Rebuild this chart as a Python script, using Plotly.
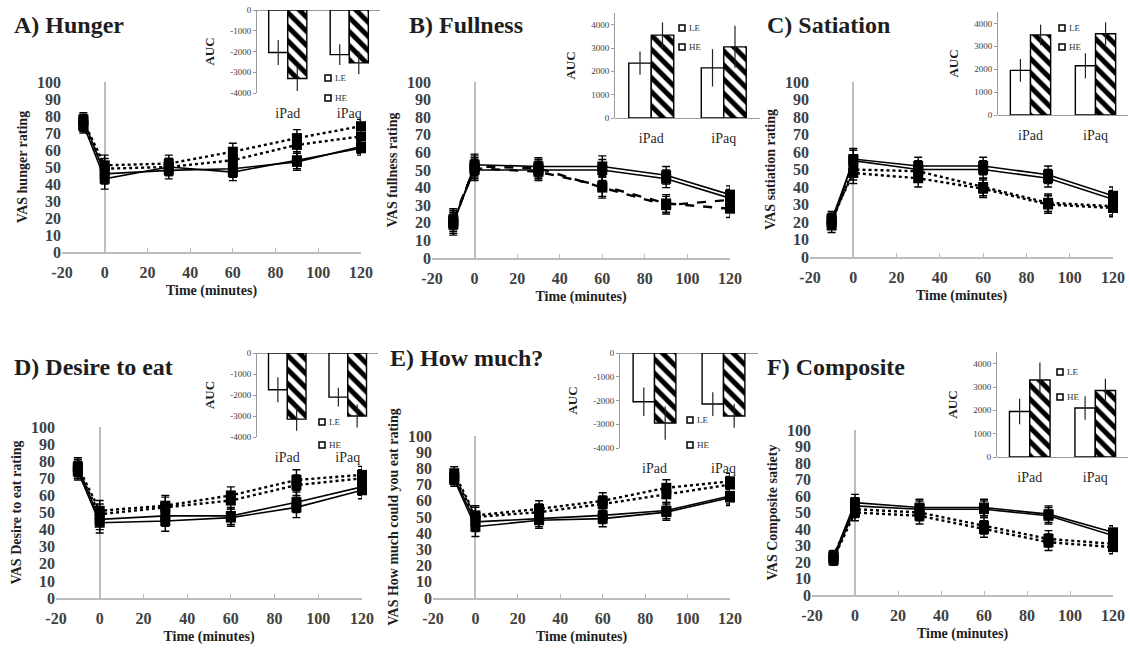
import plotly.graph_objects as go

W, H = 1130, 648

# ---------------- data ----------------
times = [-10, 0, 30, 60, 90, 120]
x_ticks = [-20, 0, 20, 40, 60, 80, 100, 120]
y_ticks = [0, 10, 20, 30, 40, 50, 60, 70, 80, 90, 100]
auc_cats = ["iPad", "iPaq"]
auc_neg_ticks = [0, -1000, -2000, -3000, -4000]
auc_pos_ticks = [0, 1000, 2000, 3000, 4000]

# A) Hunger
hunger_ipad_le = [77, 51, 52, 59, 67, 74]
hunger_ipaq_le = [74, 49, 50, 54, 63, 68]
hunger_ipad_he = [78, 46, 48, 49, 53, 62]
hunger_ipaq_he = [75, 43, 50, 47, 54, 61]
hunger_err = [4, 6, 5, 5, 5, 4]
hunger_auc_le = [-2050, -2150]
hunger_auc_le_err = [600, 500]
hunger_auc_he = [-3300, -2550]
hunger_auc_he_err = [600, 550]

# B) Fullness
fullness_ipad_le = [20, 52, 51, 40, 30, 33]
fullness_ipaq_le = [22, 51, 49, 41, 31, 28]
fullness_ipad_he = [19, 53, 52, 52, 47, 36]
fullness_ipaq_he = [21, 50, 50, 50, 45, 34]
fullness_err = [6, 6, 5, 6, 5, 5]
fullness_auc_le = [2350, 2150]
fullness_auc_le_err = [500, 800]
fullness_auc_he = [3550, 3050]
fullness_auc_he_err = [550, 900]

# C) Satiation
satiation_ipad_le = [20, 50, 49, 40, 31, 29]
satiation_ipaq_le = [22, 48, 45, 39, 30, 28]
satiation_ipad_he = [18, 56, 52, 52, 47, 35]
satiation_ipaq_he = [21, 55, 50, 50, 45, 33]
satiation_err = [4, 6, 5, 5, 5, 5]
satiation_auc_le = [1950, 2150]
satiation_auc_le_err = [500, 550]
satiation_auc_he = [3500, 3550]
satiation_auc_he_err = [450, 500]

# D) Desire to eat
desire_ipad_le = [77, 51, 54, 60, 69, 72]
desire_ipaq_le = [75, 49, 53, 57, 66, 70]
desire_ipad_he = [76, 46, 48, 48, 56, 65]
desire_ipaq_he = [74, 44, 45, 47, 53, 63]
desire_err = [5, 6, 6, 5, 6, 5]
desire_auc_le = [-1750, -2100]
desire_auc_le_err = [600, 450]
desire_auc_he = [-3150, -3000]
desire_auc_he_err = [550, 550]

# E) How much?
howmuch_ipad_le = [77, 51, 55, 60, 68, 72]
howmuch_ipaq_le = [75, 50, 53, 58, 64, 70]
howmuch_ipad_he = [74, 47, 49, 51, 54, 63]
howmuch_ipaq_he = [73, 44, 48, 49, 53, 62]
howmuch_err = [4, 6, 5, 5, 5, 5]
howmuch_auc_le = [-2050, -2150]
howmuch_auc_le_err = [600, 500]
howmuch_auc_he = [-2950, -2650]
howmuch_auc_he_err = [700, 500]

# F) Composite
composite_ipad_le = [24, 52, 50, 42, 34, 31]
composite_ipaq_le = [22, 50, 48, 40, 32, 29]
composite_ipad_he = [23, 56, 53, 53, 49, 38]
composite_ipaq_he = [21, 54, 52, 52, 48, 36]
composite_err = [3, 5, 5, 5, 5, 4]
composite_auc_le = [1950, 2100]
composite_auc_le_err = [550, 500]
composite_auc_he = [3300, 2850]
composite_auc_he_err = [750, 500]

titles = ["A) Hunger", "B) Fullness", "C) Satiation",
          "D) Desire to eat", "E) How much?", "F) Composite"]
ytitles = ["VAS hunger rating", "VAS fullness rating", "VAS satiation rating",
           "VAS Desire to eat rating", "VAS How much could you eat rating",
           "VAS Composite satiety"]

# ---------------- layout helpers ----------------
def PX(p):
    return min(max(p / W, 0.0), 1.0)

def PY(p):
    return min(max(1 - p / H, 0.0), 1.0)

SERIF = "Liberation Serif"
DARK = "#1e1e1e"
TICK = "#404040"
AXC = "#bdbdbd"

panels = [
    dict(lines=(hunger_ipad_le, hunger_ipaq_le, hunger_ipad_he, hunger_ipaq_he), err=hunger_err,
         auc=(hunger_auc_le, hunger_auc_le_err, hunger_auc_he, hunger_auc_he_err),
         dom=(62, 361, 82, 252), ins=(257, 380, 10, 93), neg=True, dash="dot",
         title=(12, 25), leg=(328, 78, 98)),
    dict(lines=(fullness_ipad_le, fullness_ipaq_le, fullness_ipad_he, fullness_ipaq_he), err=fullness_err,
         auc=(fullness_auc_le, fullness_auc_le_err, fullness_auc_he, fullness_auc_he_err),
         dom=(432, 730, 82, 258), ins=(615, 760, 13, 118), neg=False, dash="dash",
         title=(407, 25), leg=(682, 28, 47)),
    dict(lines=(satiation_ipad_le, satiation_ipaq_le, satiation_ipad_he, satiation_ipaq_he), err=satiation_err,
         auc=(satiation_auc_le, satiation_auc_le_err, satiation_auc_he, satiation_auc_he_err),
         dom=(810, 1113, 82, 257), ins=(998, 1128, 12, 115), neg=False, dash="dot",
         title=(765, 25), leg=(1062, 28, 47)),
    dict(lines=(desire_ipad_le, desire_ipaq_le, desire_ipad_he, desire_ipaq_he), err=desire_err,
         auc=(desire_auc_le, desire_auc_le_err, desire_auc_he, desire_auc_he_err),
         dom=(56, 362, 427, 598), ins=(257, 378, 353, 437), neg=True, dash="dot",
         title=(12, 367), leg=(322, 422, 445)),
    dict(lines=(howmuch_ipad_le, howmuch_ipaq_le, howmuch_ipad_he, howmuch_ipaq_he), err=howmuch_err,
         auc=(howmuch_auc_le, howmuch_auc_le_err, howmuch_auc_he, howmuch_auc_he_err),
         dom=(433, 730, 436, 598), ins=(620, 758, 353, 448), neg=True, dash="dot",
         title=(388, 358), leg=(690, 420, 445)),
    dict(lines=(composite_ipad_le, composite_ipaq_le, composite_ipad_he, composite_ipaq_he), err=composite_err,
         auc=(composite_auc_le, composite_auc_le_err, composite_auc_he, composite_auc_he_err),
         dom=(812, 1113, 430, 595), ins=(997, 1128, 352, 457), neg=False, dash="dot",
         title=(765, 367), leg=(1060, 372, 397)),
]

fig = go.Figure()
layout = dict(template="none", width=W, height=H, margin=dict(l=0, r=0, t=0, b=0, autoexpand=False),
              paper_bgcolor="white", plot_bgcolor="rgba(0,0,0,0)",
              showlegend=False, font=dict(family=SERIF, color=DARK),
              bargap=0.38, bargroupgap=0.0, barmode="group")
annotations = []
shapes = []

for i, p in enumerate(panels):
    n = i + 1
    xa, ya = f"x{n}", f"y{n}"
    x0, x1, yt, yb = p["dom"]
    layout[f"xaxis{n}"] = dict(
        domain=[PX(x0), PX(x1)], anchor=ya, range=[-20, 120], tickvals=x_ticks,
        ticktext=[str(v) for v in x_ticks], automargin=False, ticklabelstandoff=5,
        showline=True, linecolor=AXC, linewidth=1.5, ticks="inside", ticklen=4,
        tickcolor=AXC, showgrid=False, zeroline=True, zerolinecolor=AXC, zerolinewidth=1.5,
        tickfont=dict(family=SERIF, size=16, color=TICK, weight="bold"),
        title=dict(text="Time (minutes)", font=dict(family=SERIF, size=14, color=DARK, weight="bold"),
                   standoff=5))
    layout[f"yaxis{n}"] = dict(
        domain=[PY(yb), PY(yt)], anchor=xa, range=[0, 100], tickvals=y_ticks, automargin=False,
        showline=False, showgrid=False, zeroline=False, ticks="",
        tickfont=dict(family=SERIF, size=16, color=TICK, weight="bold"),
        title=dict(text=ytitles[i], font=dict(family=SERIF, size=14, color=DARK, weight="bold"),
                   standoff=6))
    ipad_le, ipaq_le, ipad_he, ipaq_he = p["lines"]
    for ys, dash, w in ((ipad_le, p["dash"], 2.4), (ipaq_le, p["dash"], 2.4),
                        (ipad_he, "solid", 1.6), (ipaq_he, "solid", 1.6)):
        fig.add_trace(go.Scatter(
            x=times, y=ys, xaxis=xa, yaxis=ya, mode="lines+markers",
            line=dict(color="black", width=w, dash=dash),
            marker=dict(symbol="square", size=10, color="black"),
            error_y=dict(type="data", array=p["err"], color="black", thickness=1.4, width=4),
            cliponaxis=False))

    # inset
    m = n + 6
    ixa, iya = f"x{m}", f"y{m}"
    ix0, ix1, iyt, iyb = p["ins"]
    if p["neg"]:
        yr = [-4000, 0]
        yv = auc_neg_ticks
    else:
        yr = [0, 4500]
        yv = auc_pos_ticks
    layout[f"xaxis{m}"] = dict(
        domain=[PX(ix0), PX(ix1)], anchor=iya, type="category", showline=False, automargin=False,
        ticks="", showgrid=False, ticklabelstandoff=10,
        tickfont=dict(family=SERIF, size=14, color="#2a2a2a"))
    layout[f"yaxis{m}"] = dict(
        domain=[PY(iyb), PY(iyt)], anchor=ixa, range=yr, tickvals=yv,
        ticktext=[str(v) for v in yv], automargin=False,
        showline=True, linecolor="#9a9a9a", linewidth=1, ticks="outside", ticklen=3,
        tickcolor="#9a9a9a", showgrid=False, zeroline=True, zerolinecolor="#9a9a9a",
        zerolinewidth=1,
        tickfont=dict(family=SERIF, size=9, color=TICK),
        title=dict(text="AUC", font=dict(family=SERIF, size=13, color=DARK, weight="bold"),
                   standoff=12))
    le, le_err, he, he_err = p["auc"]
    fig.add_trace(go.Bar(
        x=auc_cats, y=le, xaxis=ixa, yaxis=iya, name="LE",
        marker=dict(color="white", line=dict(color="black", width=1.4)),
        error_y=dict(type="data", array=le_err, color="#222", thickness=1.2, width=0)))
    fig.add_trace(go.Bar(
        x=auc_cats, y=he, xaxis=ixa, yaxis=iya, name="HE",
        marker=dict(color="white", line=dict(color="black", width=1.4),
                    pattern=dict(shape="\\", fgcolor="black", bgcolor="white", fgopacity=1,
                                 size=10, solidity=0.5)),
        error_y=dict(type="data", array=he_err, color="#222", thickness=1.2, width=0)))

    # inset legend
    lx, ly1, ly2 = p["leg"]
    for ly, lab in ((ly1, "LE"), (ly2, "HE")):
        shapes.append(dict(type="rect", xref="paper", yref="paper",
                           x0=PX(lx - 3), x1=PX(lx + 3), y0=PY(ly + 3), y1=PY(ly - 3),
                           line=dict(color="black", width=1.5), fillcolor="white"))
        annotations.append(dict(text=lab, xref="paper", yref="paper", x=PX(lx + 5), y=PY(ly),
                                xanchor="left", yanchor="middle", showarrow=False,
                                font=dict(family=SERIF, size=9, color="#333")))

    # panel title
    tx, ty = p["title"]
    annotations.append(dict(text=titles[i], xref="paper", yref="paper", x=PX(tx), y=PY(ty),
                            xanchor="left", yanchor="middle", showarrow=False,
                            font=dict(family=SERIF, size=24, color=DARK, weight="bold")))

layout["annotations"] = annotations
layout["shapes"] = shapes
fig.update_layout(**layout)
fig.write_html("out.html", config={"displayModeBar": False},
               post_script="document.body.style.margin='0px';")
